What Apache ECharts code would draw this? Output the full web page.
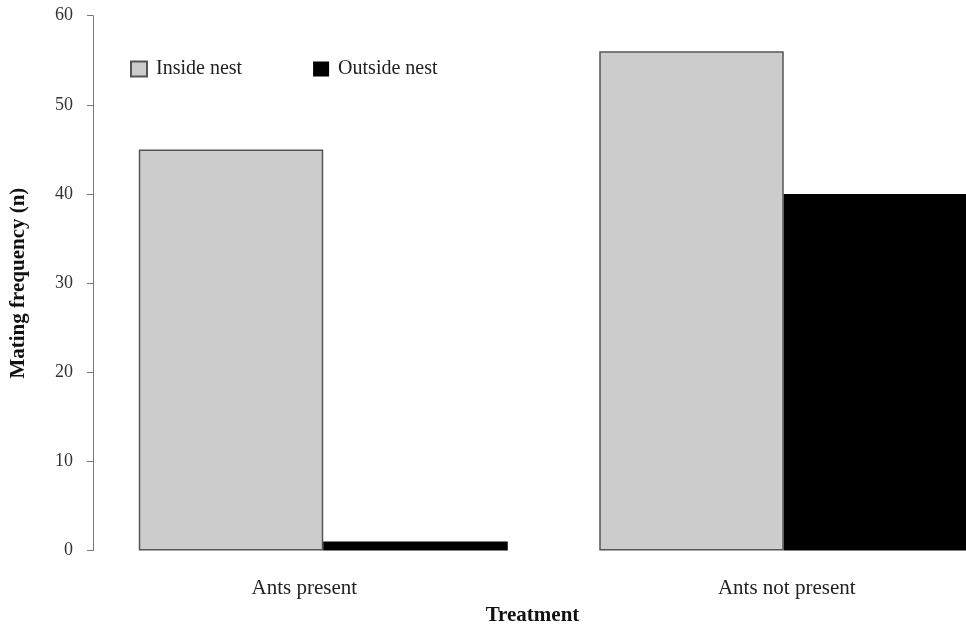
<!DOCTYPE html>
<html>
<head>
<meta charset="utf-8">
<script src="https://cdn.jsdelivr.net/npm/echarts@6/dist/echarts.min.js"></script>
<style>
html,body{margin:0;padding:0;background:#fff;}
#chart{width:966px;height:627px;}
</style>
</head>
<body>
<div id="chart"></div>
<script>
var categories = ['Ants present', 'Ants not present'];
var insideNest = [45, 56];
var outsideNest = [1, 40];
var yTicks = [0, 10, 20, 30, 40, 50, 60];

var FONT = "'Liberation Serif', 'Times New Roman', serif";
var chart = echarts.init(document.getElementById('chart'), null, {renderer: 'canvas'});
chart.setOption({
  animation: false,
  backgroundColor: '#ffffff',
  textStyle: {fontFamily: FONT},
  legend: {
    left: 130,
    top: 59,
    padding: 0,
    icon: 'rect',
    itemWidth: 16,
    itemHeight: 15,
    itemGap: 71,
    textStyle: {fontFamily: FONT, fontSize: 20, color: '#222', padding: [0, 0, 0, 4]},
    data: ['Inside nest', 'Outside nest']
  },
  grid: {left: 93, width: 921, top: 15.7, height: 534.8, containLabel: false, outerBoundsMode: 'none'},
  xAxis: {
    type: 'category',
    data: categories,
    name: 'Treatment',
    nameLocation: 'middle',
    nameGap: 55,
    nameTextStyle: {fontFamily: FONT, fontSize: 21, fontWeight: 'bold', color: '#111', padding: [0, 42, 0, 0]},
    axisLine: {show: false},
    axisTick: {show: false},
    axisLabel: {
      margin: 27,
      fontFamily: FONT,
      fontSize: 21,
      color: '#222',
      formatter: function (v, i) { return i === 0 ? '{a|' + v + '}' : '{b|' + v + '}'; },
      rich: {
        a: {fontFamily: FONT, fontSize: 21, color: '#222', padding: [0, 38, 0, 0]},
        b: {fontFamily: FONT, fontSize: 21, color: '#222', padding: [0, 0, 0, 6]}
      }
    }
  },
  yAxis: {
    type: 'value',
    min: yTicks[0],
    max: yTicks[yTicks.length - 1],
    interval: yTicks[1] - yTicks[0],
    name: 'Mating frequency (n)',
    nameLocation: 'middle',
    nameGap: 64,
    nameTextStyle: {fontFamily: FONT, fontSize: 21, fontWeight: 'bold', color: '#111'},
    axisLine: {show: true, lineStyle: {color: '#777', width: 1}},
    axisTick: {show: true, length: 6, lineStyle: {color: '#777', width: 1}},
    axisLabel: {margin: 20, fontFamily: FONT, fontSize: 18, color: '#333'},
    splitLine: {show: false}
  },
  series: [
    {
      name: 'Inside nest',
      type: 'bar',
      data: insideNest,
      barWidth: 184.5,
      barGap: '0%',
      itemStyle: {color: '#cccccc', borderColor: '#555555', borderWidth: 1.5}
    },
    {
      name: 'Outside nest',
      type: 'bar',
      data: outsideNest,
      barWidth: 184.5,
      barGap: '0%',
      itemStyle: {color: '#000000', borderColor: '#000000', borderWidth: 0}
    }
  ]
});
</script>
</body>
</html>
